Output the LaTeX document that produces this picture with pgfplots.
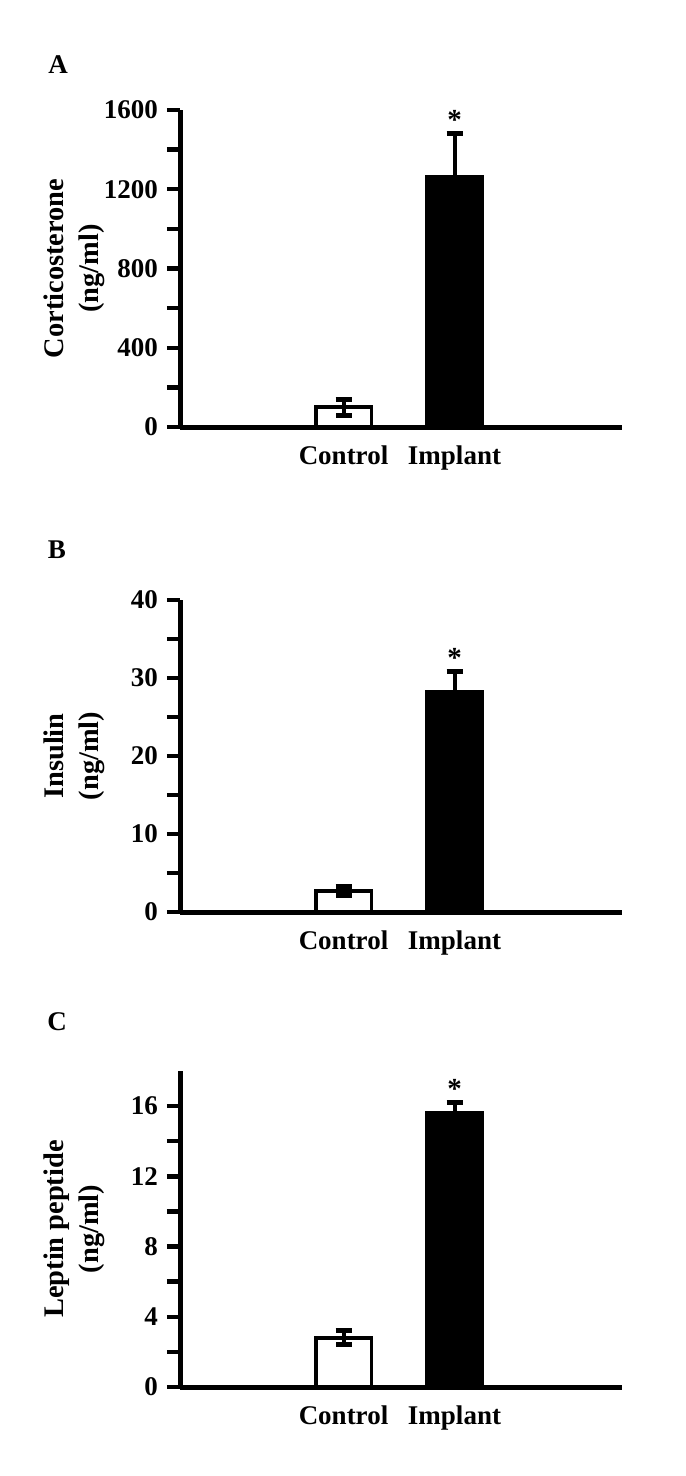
\documentclass[border=0pt]{standalone}
\usepackage{fontspec}
\setmainfont{Liberation Serif}
\usepackage{pgfplots}
\pgfplotsset{compat=1.18}

\pgfplotsset{
  panel/.style={
    scale only axis,
    width=221pt,
    xmin=-0.473, xmax=3.509, ymin=0,
    axis lines=left,
    axis line style={-, line width=2.5pt},
    clip=false,
    ybar, bar width=0.5, bar shift=0pt,
    xtick={1,2}, xticklabels={Control,Implant},
    major x tick style={draw=none},
    tick align=outside,
    major tick length=6.5pt, minor tick length=6.5pt,
    every tick/.style={black, line width=2.2pt},
    ytick pos=left,
    tick label style={font=\fontsize{13.5}{16}\selectfont\bfseries},
    /pgf/number format/assume math mode=true,
    /pgf/number format/1000 sep={},
    xticklabel style={yshift=0.8pt},
    yticklabel style={xshift=-1pt},
    every axis y label/.style={at={(rel axis cs:0,0.5)}, xshift=-52.75pt,
      rotate=90, anchor=center, align=center,
      font=\fontsize{14.2}{17.5}\selectfont\bfseries},
    error bars/error bar style={line width=2pt, black},
    error bars/error mark options={rotate=90, mark size=4pt, line width=2.4pt, black},
  },
  ctrl/.style={draw=black, fill=white, line width=1.75pt,
    error bars/.cd, y dir=both, y explicit},
  impl/.style={draw=black, fill=black, line width=1.75pt,
    error bars/.cd, y dir=plus, y explicit},
}

\begin{document}
\begin{tikzpicture}
\path[use as bounding box] (0,0) rectangle (342.5pt,-738pt);

\node[font=\fontsize{13.5}{16}\selectfont\bfseries] at (29pt,-32.5pt) {A};
\node[font=\fontsize{13.5}{16}\selectfont\bfseries] at (28.5pt,-275pt) {B};
\node[font=\fontsize{13.5}{16}\selectfont\bfseries] at (28.5pt,-511pt) {C};

% A: corticosterone
\begin{axis}[panel, at={(90pt,-213.5pt)}, anchor=south west, height=158.5pt,
  ymax=1600, ytick={0,400,800,1200,1600}, minor ytick={200,600,1000,1400},
  ylabel={Corticosterone\\(ng/ml)}]
  \addplot[ctrl] coordinates {(1,100) +- (0,40)};
  \addplot[impl] coordinates {(2,1265) +- (0,218)};
  \node[font=\fontsize{14.5}{16}\selectfont\bfseries, anchor=base] at (axis cs:2,1483) [yshift=2pt] {*};
\end{axis}

% B: insulin
\begin{axis}[panel, at={(90pt,-456pt)}, anchor=south west, height=156pt,
  ymax=40, ytick={0,10,20,30,40}, minor ytick={5,15,25,35},
  ylabel={Insulin\\(ng/ml)}]
  \addplot[ctrl] coordinates {(1,2.7) +- (0,0.6)};
  \addplot[impl] coordinates {(2,28.2) +- (0,2.6)};
  \node[font=\fontsize{14.5}{16}\selectfont\bfseries, anchor=base] at (axis cs:2,30.8) [yshift=2pt] {*};
\end{axis}

% C: leptin peptide
\begin{axis}[panel, at={(90pt,-693.5pt)}, anchor=south west, height=158pt,
  ymax=18, ytick={0,4,8,12,16}, minor ytick={2,6,10,14},
  ylabel={Leptin peptide\\(ng/ml)}]
  \addplot[ctrl] coordinates {(1,2.8) +- (0,0.4)};
  \addplot[impl] coordinates {(2,15.65) +- (0,0.55)};
  \node[font=\fontsize{14.5}{16}\selectfont\bfseries, anchor=base] at (axis cs:2,16.2) [yshift=2pt] {*};
\end{axis}
\end{tikzpicture}
\end{document}
